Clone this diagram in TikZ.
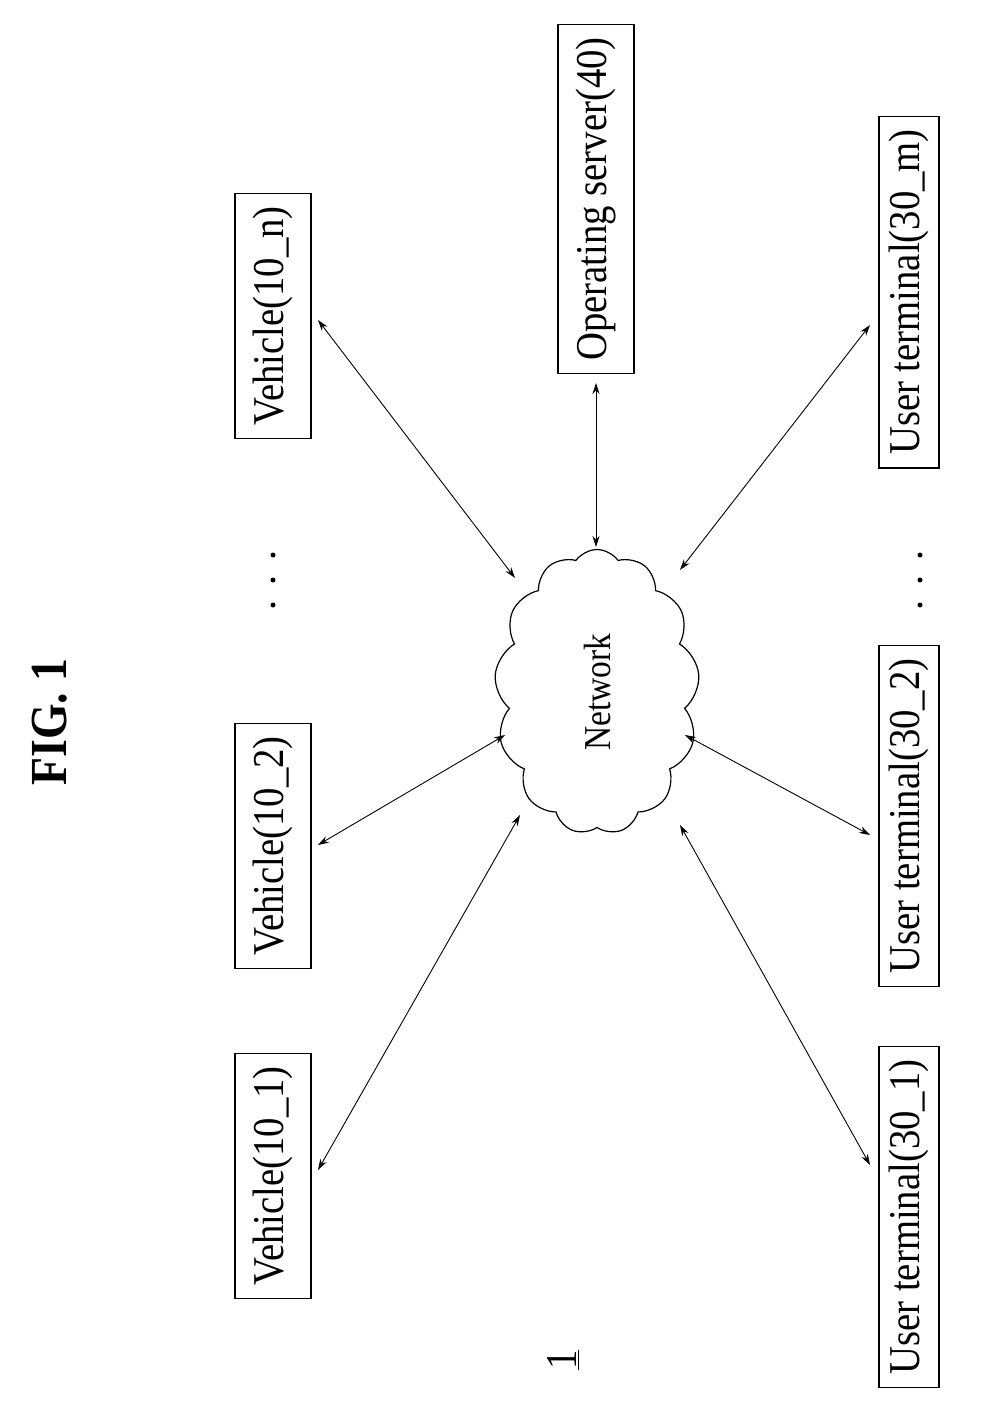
\documentclass[tikz,border=0pt]{standalone}
\usepackage{fontspec}
\setmainfont{Liberation Serif}[FakeStretch=0.88]
\usetikzlibrary{shapes.symbols,arrows,arrows.meta,positioning}
\tikzset{
    unit/.style={draw,line width=1.2pt,rotate=90,inner xsep=13pt,inner ysep=18pt,font=\fontsize{44}{46}\selectfont},
    thin unit/.style={unit,inner ysep=10pt},
    link/.style={<->,>={Stealth[length=11pt,width=7pt]},line width=0.9pt},
    dot/.style={circle,fill,inner sep=0pt,minimum size=5pt}
}
\begin{document}
\begin{tikzpicture}[x=1pt,y=-1pt]
\useasboundingbox (0,0) rectangle (980,1407);
% figure title
\node[rotate=90,font=\bfseries\fontsize{52}{54}\selectfont] (title) at (50,722) {FIG. 1};
\node[rotate=90,font=\fontsize{44}{46}\selectfont] (ref) at (563,1360) {\underline{1}};
% network
\node[cloud,draw,line width=1.2pt,cloud puffs=13,cloud puff arc=110,minimum width=205pt,minimum height=285pt,cloud ignores aspect,font=\fontsize{38}{40}\selectfont] (net) at (597,692) {\rotatebox{90}{Network}};
% vehicles
\node[unit] (v1) at (273,1176) {Vehicle(10\_1)};
\node[unit] (v2) at (273,846) {Vehicle(10\_2)};
\node[unit] (vn) at (273,316) {Vehicle(10\_n)};
\foreach \y [count=\i] in {555,580,605} \node[dot] (vd\i) at (273,\y) {};
% server
\node[unit] (srv) at (596,199) {Operating server(40)};
% user terminals
\node[thin unit] (u1) at (909,1217) {User terminal(30\_1)};
\node[thin unit] (u2) at (909,816) {User terminal(30\_2)};
\node[thin unit] (um) at (909,292) {User terminal(30\_m)};
\foreach \y [count=\i] in {555,580,605} \node[dot] (ud\i) at (920,\y) {};
% links
\coordinate (a1) at (318,1170);  \coordinate (n1) at (520,815);
\coordinate (a2) at (318,845);   \coordinate (n2) at (505,735);
\coordinate (an) at (318,320);   \coordinate (nn) at (515,578);
\coordinate (as) at (596,383);   \coordinate (ns) at (596,547);
\coordinate (am) at (870,325);   \coordinate (nm) at (680,570);
\coordinate (au2) at (870,835);  \coordinate (nu2) at (685,735);
\coordinate (au1) at (870,1165); \coordinate (nu1) at (680,825);
\draw[link] (a1) -- (n1);
\draw[link] (a2) -- (n2);
\draw[link] (an) -- (nn);
\draw[link] (as) -- (ns);
\draw[link] (am) -- (nm);
\draw[link] (au2) -- (nu2);
\draw[link] (au1) -- (nu1);
\end{tikzpicture}
\end{document}
